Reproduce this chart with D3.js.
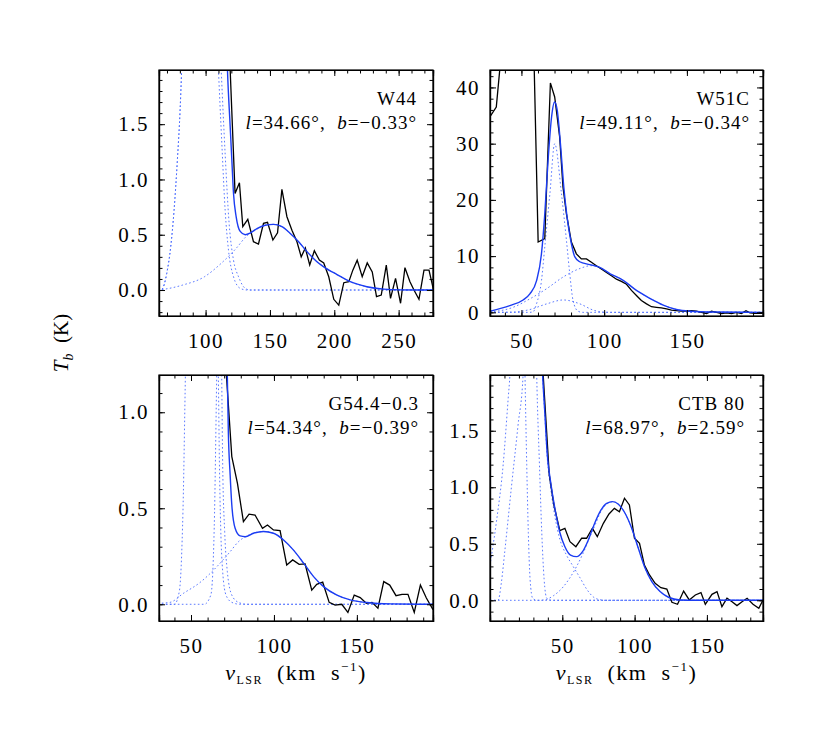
<!DOCTYPE html>
<html><head><meta charset="utf-8">
<script src="https://cdn.jsdelivr.net/npm/d3@7"></script>
<style>
body{margin:0;background:#fff}
svg{display:block}
svg text{font-family:'Liberation Serif','DejaVu Serif',serif !important;fill:#000}
</style>
</head><body>
<svg id="c" width="830" height="734"></svg>
<script>
// ---------------- data (velocity km/s, brightness K) ----------------
const names = ["W44", "W51C", "G54.4\u22120.3", "CTB 80"];
const lonLabels = ["34.66", "49.11", "54.34", "68.97"];
const latLabels = ["\u22120.33", "\u22120.34", "\u22120.39", "2.59"];

const w44XTicks = [100, 150, 200, 250];
const w44YTicks = [0, 0.5, 1.0, 1.5];
const w51XTicks = [50, 100, 150];
const w51YTicks = [0, 10, 20, 30, 40];
const g54XTicks = [50, 100, 150];
const g54YTicks = [0, 0.5, 1.0];
const ctbXTicks = [50, 100, 150];
const ctbYTicks = [0, 0.5, 1.0, 1.5];

// W44
const w44Obs = [[115,10],[118.9,2.05],[122.9,0.874],[126.3,0.97],[128.9,0.573],[132.8,0.639],[137.2,0.437],[141.1,0.416],[145,0.603],[148.1,0.612],[152.3,0.452],[155.9,0.518],[159.3,0.91],[163.2,0.663],[167.1,0.54],[171,0.437],[174.3,0.30],[177.5,0.38],[180.9,0.226],[184.5,0.355],[188.4,0.27],[191.8,0.245],[195.7,0.12],[199.6,-0.084],[203.5,-0.136],[207.4,0.066],[211.3,0.075],[214.4,0.18],[217.8,0.27],[221.7,0.12],[225.6,0.245],[229.5,0.163],[232.8,-0.06],[236.5,-0.045],[240.4,0.226],[243.7,-0.075],[247.6,0.105],[251.5,-0.12],[254.9,0.202],[258.8,0.075],[261.9,0.0],[265.8,-0.084],[269.7,0.18],[273.6,0.18],[277,0.006]];
const w44Fit = [[115.5,2.6],[117,1.99],[119.1,1.48],[120.4,1.175],[121.7,0.873],[123.8,0.66],[126.9,0.53],[130.8,0.5],[134.7,0.515],[139.9,0.556],[146.3,0.586],[152.8,0.594],[159.3,0.573],[165.8,0.512],[172.3,0.437],[178.8,0.347],[186.5,0.256],[191.8,0.21],[202.1,0.14],[212.4,0.075],[225.3,0.03],[238.3,0.008],[251.5,0.001],[277,0]];
const w44CompA = [[63,0],[65.9,0.005],[69.8,0.15],[72.9,0.39],[75.5,0.72],[78.1,1.18],[80.2,1.63],[81.4,1.99],[85,3.2],[95.7,4.2],[106,3.2],[110,1.99],[112.6,1.33],[115.2,0.72],[117.8,0.36],[121.7,0.12],[126.9,0.015],[132.1,0],[277,0]];
const w44CompB = [[63,0],[65.9,0.005],[69.8,0.15],[72.9,0.39],[75.5,0.72],[78.1,1.18],[80.2,1.63],[81.4,1.99],[85,3.4],[98,4.6],[108,3.2],[112.1,2.0],[115.2,1.23],[118.3,0.6],[121.7,0.27],[125.6,0.12],[130.8,0.015],[134.7,0],[277,0]];
const w44CompC = [[63,0],[66,0.004],[82.2,0.045],[99.1,0.12],[112,0.24],[123.7,0.376],[131.4,0.482],[139.9,0.55],[146.3,0.586],[152.8,0.594],[159.3,0.573],[165.8,0.512],[172.3,0.437],[178.8,0.347],[186.5,0.256],[191.8,0.21],[202.1,0.14],[212.4,0.075],[225.3,0.03],[238.3,0.008],[251.5,0.001],[277,0]];

// W51C
const w51Obs = [[31,34.8],[34.8,36.5],[37.8,46],[40.8,80],[54.6,80],[57.6,45],[60.1,12.5],[64.1,13.1],[67.5,40.8],[70.1,38.3],[73.1,31.2],[75.1,22.3],[77.2,17.5],[80.2,12.5],[83.2,10.4],[86.2,9.5],[89.3,9.5],[92.3,8.9],[95.3,8.3],[98.3,7.7],[101.4,7.1],[104.4,6.5],[107.4,5.9],[110.4,5.5],[113.5,5.0],[116.5,3.9],[119.5,3.0],[122.5,2.1],[125.6,1.5],[128.6,1.0],[131.6,0.9],[134.6,0.8],[137.7,0.6],[140.7,0.4],[143.7,0.3],[146.7,0.2],[149.8,0.2],[152.8,0.3],[155.8,0.2],[158.8,0.0],[161.9,-0.2],[164.9,0.2],[167.9,0.0],[170.9,-0.2],[174,-0.1],[177,-0.2],[180,0],[183,-0.2],[185.7,0.3],[188.1,-0.1],[191.1,-0.2],[195.7,-0.2]];
const w51Fit = [[31,0.2],[43,1.2],[51,2.2],[55.1,3.3],[59.1,5.6],[62.1,10.4],[64.1,17.5],[66.1,27],[68.2,34.7],[70,37.4],[71.6,36],[73.6,29.9],[75.6,22.3],[77.6,16.9],[80.2,12.2],[82.2,9.9],[85.2,9.0],[91.3,8.5],[97.3,8.0],[103.4,6.9],[111.5,5.7],[119.5,3.9],[127.6,2.5],[135.7,1.3],[143.7,0.5],[151.8,0.2],[165.9,0.05],[196,0]];
const w51CompA = [[31,0],[55,0],[57.1,0.1],[59.1,1.5],[62.1,5.6],[64.1,11.6],[67.2,21.1],[70.1,30],[74.2,21.1],[77.2,12.8],[79.2,6.9],[81.2,2.1],[84.2,0.2],[87,0],[196,0]];
const w51CompB = [[31,0],[45,0.05],[55.1,0.5],[65.2,1.5],[75.3,2.2],[85.4,1.5],[93.4,0.4],[99.4,0.05],[105,0],[196,0]];
const w51CompC = [[31,0.05],[45,0.9],[55.1,2.4],[65.2,4.2],[75.3,6.3],[85.4,7.8],[92,8.3],[97.3,8.0],[103.4,6.9],[111.5,5.7],[119.5,3.9],[127.6,2.5],[135.7,1.3],[143.7,0.5],[151.8,0.2],[165.9,0.05],[196,0]];

// G54.4-0.3
const g54Obs = [[67.4,10],[70.9,1.25],[74.6,0.769],[78,0.63],[81.6,0.43],[85,0.469],[88.6,0.465],[93.1,0.396],[96.1,0.413],[99.7,0.387],[103.7,0.384],[107.7,0.205],[111.3,0.231],[115.2,0.208],[118.8,0.21],[122.8,0.074],[125.8,0.104],[129.4,0.115],[133.3,0.01],[136.9,-0.004],[140.9,0.0],[144.6,-0.042],[148.4,0.048],[152,0.035],[155.7,0.005],[159.1,0.01],[162.7,-0.02],[166.2,0.118],[169.8,0.1],[173.6,0.045],[177.2,0.052],[180.8,0.052],[184.6,-0.042],[188.3,0.1],[191.9,0.033],[195.9,-0.028]];
const g54Fit = [[70.5,1.5],[71.9,1.19],[72.5,0.9],[73.6,0.674],[74.6,0.517],[76.6,0.396],[79.6,0.356],[82.7,0.352],[87.7,0.37],[93.7,0.379],[99.7,0.37],[105.8,0.335],[111.8,0.282],[117.9,0.214],[123.9,0.144],[129.9,0.092],[138,0.048],[146,0.023],[156.1,0.009],[170.2,0.002],[195.9,0]];
const g54CompA = [[30,0],[40,0],[43,0.07],[44.4,0.27],[45.4,0.58],[46.2,0.98],[46.6,1.19],[48,2.2],[56.5,4],[65,2.2],[66.5,1.19],[67.1,0.75],[67.9,0.4],[69.1,0.17],[71.1,0.048],[74.6,0.01],[79.6,0],[196,0]];
const g54CompB = [[30,0],[58,0],[62,0.05],[64,0.4],[65.5,1.19],[67,2],[68.5,1.19],[69.1,0.725],[70.3,0.378],[71.9,0.17],[74.6,0.048],[78.6,0.01],[83.7,0],[196,0]];
const g54CompC = [[30,0.005],[37.3,0.01],[45.4,0.057],[55.5,0.114],[65.6,0.196],[73.6,0.274],[78.6,0.326],[83.7,0.356],[93.7,0.379],[99.7,0.37],[105.8,0.335],[111.8,0.282],[117.9,0.214],[123.9,0.144],[129.9,0.092],[138,0.048],[146,0.023],[156.1,0.009],[170.2,0.002],[195.9,0]];

// CTB 80
const ctbObs = [[33,4],[36.8,1.99],[41,1.109],[44.2,0.843],[48.3,0.616],[51.8,0.637],[55.3,0.519],[59.4,0.474],[63.4,0.549],[66.8,0.549],[70.8,0.637],[74.2,0.563],[78.4,0.681],[82.3,0.764],[86,0.813],[89.5,0.784],[93,0.903],[96.4,0.844],[99.9,0.549],[103.4,0.504],[106.8,0.312],[110.3,0.224],[114.2,0.15],[118.2,0.112],[122.3,0.1],[125.8,-0.018],[129.7,-0.035],[133.9,0.082],[137.8,0.003],[142,0.047],[145.9,0.068],[148.9,-0.035],[153.5,0.053],[157,0.077],[160.4,-0.056],[163.9,0.018],[167.4,-0.012],[170.8,-0.047],[174.3,-0.012],[177.8,0.018],[181.9,-0.035],[185.9,-0.071],[188.8,0.003]];
const ctbFit = [[34.5,2.6],[36.4,1.99],[38,1.64],[39.6,1.29],[41.9,1.05],[44.9,0.81],[48.3,0.6],[51.8,0.474],[55.7,0.4],[59.9,0.386],[64,0.43],[68,0.534],[71.9,0.667],[76.1,0.785],[80.7,0.858],[84.8,0.873],[88.8,0.85],[93.4,0.77],[98,0.637],[102.6,0.46],[107.3,0.283],[111.9,0.165],[117.6,0.077],[123.4,0.027],[131.5,0.003],[143,0],[189,0]];
const ctbCompA = [[0,0.31],[4.5,0.7],[9.1,1.2],[12.6,1.79],[13.8,2.0],[18,4],[22,4],[24.2,2.0],[25.4,1.2],[26.5,0.6],[27.7,0.19],[29.5,0.018],[32.3,0],[189,0]];
const ctbCompB = [[0,0],[5.6,0],[7.9,0.16],[10.2,0.43],[14.8,1.0],[19.4,1.55],[22.9,2.0],[27,4],[30,4],[32.3,2.0],[34.2,1.2],[35.8,0.6],[37.4,0.19],[39.3,0.018],[42.7,0],[189,0]];
const ctbCompC = [[31,5],[34.5,2.6],[36.4,1.99],[38,1.62],[39.6,1.26],[41.9,1.0],[44.9,0.74],[48.3,0.54],[52.9,0.4],[57.5,0.3],[62.2,0.2],[66.8,0.1],[71.4,0.03],[76.1,0.005],[80,0],[189,0]];
const ctbCompD = [[0,0],[34,0],[38,0.005],[43.8,0.04],[50.7,0.12],[55.3,0.2],[59.9,0.3],[64.5,0.42],[69.1,0.56],[73.8,0.7],[76.1,0.77],[80.7,0.85],[84.8,0.873],[88.8,0.85],[93.4,0.77],[98,0.637],[102.6,0.46],[107.3,0.283],[111.9,0.165],[117.6,0.077],[123.4,0.027],[131.5,0.003],[143,0],[189,0]];

// ---------------- layout ----------------
const panels = [
  {box:{x:159,y:70,w:274,h:246}, xd:[63.8,276.7], yd:[-0.235,1.99], xt:w44XTicks, yt:w44YTicks, yf:d3.format(".1f"), xm:10, ym:0.1,
   obs:w44Obs, fit:w44Fit, comps:[w44CompA,w44CompB,w44CompC], ann:16},
  {box:{x:490,y:70,w:273,h:246}, xd:[31,196], yd:[-0.65,43.1], xt:w51XTicks, yt:w51YTicks, yf:d3.format("d"), xm:10, ym:2,
   obs:w51Obs, fit:w51Fit, comps:[w51CompA,w51CompB,w51CompC], ann:13},
  {box:{x:159,y:375,w:274,h:246}, xd:[30.7,195.9], yd:[-0.087,1.194], xt:g54XTicks, yt:g54YTicks, yf:d3.format(".1f"), xm:10, ym:0.1,
   obs:g54Obs, fit:g54Fit, comps:[g54CompA,g54CompB,g54CompC], ann:14},
  {box:{x:490,y:375,w:273,h:246}, xd:[0,188.8], yd:[-0.183,1.993], xt:ctbXTicks, yt:ctbYTicks, yf:d3.format(".1f"), xm:10, ym:0.1,
   obs:ctbObs, fit:ctbFit, comps:[ctbCompA,ctbCompB,ctbCompC,ctbCompD], ann:18}
];

const FONT = "'Liberation Serif','DejaVu Serif',serif";
const svg = d3.select("#c");
const FIT = "#1b3cf2", COMP = "#4a6cff";
const MAJ = 6, MIN = 3.5;

function minorVals(d, step){
  const out = [];
  const s = Math.ceil(d[0]/step - 1e-9), e = Math.floor(d[1]/step + 1e-9);
  for (let i = s; i <= e; i++) out.push(+(i*step).toFixed(6));
  return out;
}

panels.forEach((p, i) => {
  const b = p.box;
  const x = d3.scaleLinear().domain(p.xd).range([0, b.w]);
  const y = d3.scaleLinear().domain(p.yd).range([b.h, 0]);
  const g = svg.append("g").attr("transform", `translate(${b.x},${b.y})`);

  const cid = "clip" + i;
  g.append("clipPath").attr("id", cid).append("rect").attr("width", b.w).attr("height", b.h);
  const plot = g.append("g").attr("clip-path", `url(#${cid})`);

  const smooth = d3.line().x(d => x(d[0])).y(d => y(d[1])).curve(d3.curveMonotoneX);
  const lin = d3.line().x(d => x(d[0])).y(d => y(d[1]));

  p.comps.forEach(c => {
    plot.append("path").attr("d", smooth(c)).attr("fill", "none")
      .attr("stroke", COMP).attr("stroke-width", 1).attr("stroke-dasharray", "1.6,2.4").attr("opacity", 0.9);
  });
  plot.append("path").attr("d", lin(p.obs)).attr("fill", "none").attr("stroke", "#000").attr("stroke-width", 1.3);
  plot.append("path").attr("d", smooth(p.fit)).attr("fill", "none").attr("stroke", FIT).attr("stroke-width", 1.4);

  const fmtNone = () => "";
  const xMin = minorVals(p.xd, p.xm), yMin = minorVals(p.yd, p.ym);

  g.append("g").attr("transform", `translate(0,${b.h})`)
    .call(d3.axisBottom(x).tickValues(p.xt).tickSize(-MAJ).tickPadding(17).tickFormat(d3.format("d")));
  g.append("g").attr("transform", `translate(0,${b.h})`)
    .call(d3.axisBottom(x).tickValues(xMin).tickSize(-MIN).tickFormat(fmtNone));
  g.append("g").call(d3.axisTop(x).tickValues(p.xt).tickSize(-MAJ).tickFormat(fmtNone));
  g.append("g").call(d3.axisTop(x).tickValues(xMin).tickSize(-MIN).tickFormat(fmtNone));

  g.append("g").call(d3.axisLeft(y).tickValues(p.yt).tickSize(-MAJ).tickPadding(10).tickFormat(p.yf));
  g.append("g").call(d3.axisLeft(y).tickValues(yMin).tickSize(-MIN).tickFormat(fmtNone));
  g.append("g").attr("transform", `translate(${b.w},0)`).call(d3.axisRight(y).tickValues(p.yt).tickSize(-MAJ).tickFormat(fmtNone));
  g.append("g").attr("transform", `translate(${b.w},0)`).call(d3.axisRight(y).tickValues(yMin).tickSize(-MIN).tickFormat(fmtNone));

  g.selectAll("g").attr("font-family", FONT);
  g.selectAll(".domain").attr("stroke", "#000").attr("stroke-width", 1.2);
  g.selectAll(".tick line").attr("stroke", "#000").attr("stroke-width", 1);
  g.selectAll(".tick text").attr("font-size", 21).attr("letter-spacing", 1.5).attr("fill", "#000");

  g.append("rect").attr("width", b.w).attr("height", b.h).attr("fill", "none").attr("stroke", "#000").attr("stroke-width", 1.2);

  const ax = b.w - p.ann;
  g.append("text").attr("x", ax).attr("y", 35).attr("text-anchor", "end").attr("font-family", FONT)
    .attr("font-size", 19).attr("letter-spacing", 1).text(names[i]);
  const t2 = g.append("text").attr("x", ax).attr("y", 59).attr("text-anchor", "end").attr("font-family", FONT)
    .attr("font-size", 19).attr("letter-spacing", 1).style("white-space", "pre");
  t2.append("tspan").attr("font-style", "italic").text("l");
  t2.append("tspan").text("=" + lonLabels[i] + "\u00b0,  ");
  t2.append("tspan").attr("font-style", "italic").text("b");
  t2.append("tspan").text("=" + latLabels[i] + "\u00b0");
});

const yt = svg.append("text").attr("transform", "translate(68,343) rotate(-90)").attr("font-family", FONT)
  .attr("text-anchor", "middle").attr("font-size", 21).style("white-space", "pre");
yt.append("tspan").attr("font-style", "italic").text("T");
yt.append("tspan").attr("font-style", "italic").attr("font-size", 14).attr("dy", 5).text("b");
yt.append("tspan").attr("dy", -5).text("  (K)");

[296, 626.5].forEach(cx => {
  const t = svg.append("text").attr("x", cx).attr("y", 680).attr("text-anchor", "middle").attr("font-family", FONT)
    .attr("font-size", 22).attr("letter-spacing", 1.5).style("white-space", "pre");
  t.append("tspan").attr("font-style", "italic").text("v");
  t.append("tspan").attr("font-size", 12).attr("dy", 4).text("LSR");
  t.append("tspan").attr("dy", -4).text("  (km  s");
  t.append("tspan").attr("font-size", 13).attr("dy", -9).text("\u22121");
  t.append("tspan").attr("dy", 9).text(")");
});
</script>
</body></html>
